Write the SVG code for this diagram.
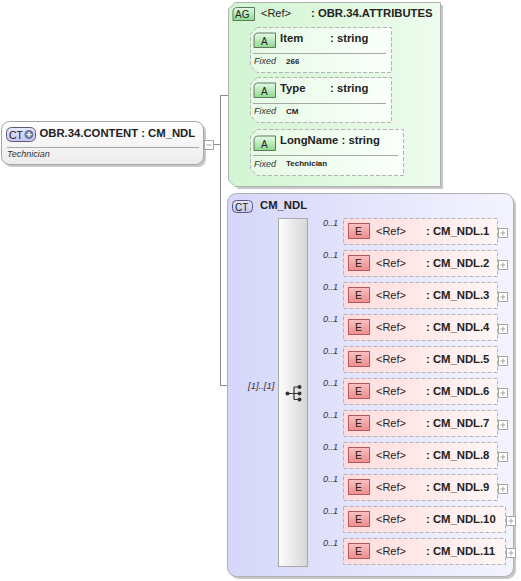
<svg xmlns="http://www.w3.org/2000/svg" width="521" height="581" viewBox="0 0 521 581">
<defs>
<linearGradient id="gNode" x1="0" y1="0" x2="0" y2="1"><stop offset="0" stop-color="#ffffff"/><stop offset="1" stop-color="#ececec"/></linearGradient>
<linearGradient id="gAG" x1="0" y1="0" x2="1" y2="0"><stop offset="0" stop-color="#d2f5d2"/><stop offset="1" stop-color="#eefcee"/></linearGradient>
<linearGradient id="gAttr" x1="0" y1="0" x2="1" y2="0"><stop offset="0" stop-color="#e6fae6"/><stop offset="1" stop-color="#fbfffb"/></linearGradient>
<linearGradient id="gCT" x1="0" y1="0" x2="1" y2="0"><stop offset="0" stop-color="#d6d6fa"/><stop offset="1" stop-color="#f4f4ff"/></linearGradient>
<linearGradient id="gSeq" x1="0" y1="0" x2="1" y2="0"><stop offset="0" stop-color="#fdfdfd"/><stop offset="1" stop-color="#d6d6d6"/></linearGradient>
<linearGradient id="gEl" x1="0" y1="0" x2="1" y2="0"><stop offset="0" stop-color="#ffdcdc"/><stop offset="1" stop-color="#fff6f6"/></linearGradient>
<linearGradient id="gEB" x1="0" y1="0" x2="0" y2="1"><stop offset="0" stop-color="#fbc0c0"/><stop offset="1" stop-color="#ee8e8e"/></linearGradient>
<linearGradient id="gAB" x1="0" y1="0" x2="0" y2="1"><stop offset="0" stop-color="#e6fbe6"/><stop offset="1" stop-color="#8fd88f"/></linearGradient>
<linearGradient id="gCB" x1="0" y1="0" x2="0" y2="1"><stop offset="0" stop-color="#e8e8ff"/><stop offset="1" stop-color="#c4c4f0"/></linearGradient>
</defs>
<style>
.b{font-family:"Liberation Sans",Arial,sans-serif;font-weight:bold;font-size:11.3px;fill:#222}
.r{font-family:"Liberation Sans",Arial,sans-serif;font-size:11px;fill:#222}
.i{font-family:"Liberation Sans",Arial,sans-serif;font-style:italic;font-size:9px;fill:#333}
.v{font-family:"Liberation Sans",Arial,sans-serif;font-weight:bold;font-size:8px;fill:#222}
.ln{fill:none;stroke:#8c8c8c;stroke-width:1}
.dash{stroke:#b4b4b4;stroke-width:1;stroke-dasharray:4,2}
.sh{fill:#c8c8c8}
.pm{fill:#fff;stroke:#a8a8a8;stroke-width:1}
.pml{stroke:#a8a8a8;stroke-width:1}
.eb{fill:url(#gEB);stroke:#b05a5a;stroke-width:1}
.ab{fill:url(#gAB);stroke:#5c7a5c;stroke-width:1}
</style>

<g id="connectors">
<path class="ln" d="M213.5,144.5 H220.5 V95.5 H238.5 M220.5,95.5 V385.5 H228"/>
<path class="ln" d="M238.5,49.5 V152.5 M238.5,49.5 H250 M238.5,99.5 H250 M238.5,152.5 H250"/>
<path class="ln" d="M228,393.5 H278"/>
<path class="ln" d="M307,232.5 H343 M307,264.5 H343 M307,296.5 H343 M307,328.5 H343 M307,360.5 H343 M307,392.5 H343 M307,424.5 H343 M307,456.5 H343 M307,488.5 H343 M307,520.5 H343 M307,552.5 H343"/>
</g>

<g id="OBR.34.CONTENT">
<rect x="4" y="124" width="202" height="43" rx="8" class="sh"/>
<rect x="1.5" y="121.5" width="202" height="43" rx="8" fill="url(#gNode)" stroke="#a4a4a4"/>
<line x1="7" y1="147.5" x2="199" y2="147.5" stroke="#a8a8a8"/>
<rect x="6.5" y="127.5" width="29" height="14" rx="5" fill="url(#gCB)" stroke="#5a5a7a"/>
<text x="9" y="139" class="r" style="font-size:10.5px">CT</text>
<circle cx="29" cy="134.5" r="4.5" fill="#6a7aa0"/>
<path d="M26.5,134.5 H31.5 M29,132 V137" stroke="#fff" stroke-width="1.4"/>
<text x="39.5" y="137" class="b">OBR.34.CONTENT : CM_NDL</text>
<text x="7" y="157" class="i">Technician</text>
<rect x="204.5" y="140.5" width="9" height="9" class="pm"/>
<line x1="206.5" y1="145" x2="211.5" y2="145" class="pml"/>
</g>

<g id="OBR.34.ATTRIBUTES">
<path d="M238,5 H443 V189 H238 L231,182 V12 Z" class="sh"/>
<path d="M235,2.5 H440.5 V186.5 H235 L228.5,180 V9 Z" fill="url(#gAG)" stroke="#b0b0b0"/>
<path d="M233,20.5 V12 Q233,7.5 237.5,7.5 H254.5 V20.5 Z" class="ab" style="fill:url(#gAB)"/>
<text x="235" y="18" class="r" style="font-size:10px">AG</text>
<text x="261" y="17" class="r">&lt;Ref&gt;</text>
<text x="311" y="17" class="b">: OBR.34.ATTRIBUTES</text>
</g>

<g id="Item">
<path d="M257,27.5 H391.5 V72.5 H257 L250.5,66 V34 Z" fill="url(#gAttr)" class="dash"/>
<path d="M254,47.5 V37.5 Q254,33 258.5,33 H275.5 V47.5 Z" class="ab"/>
<text x="261" y="44.5" class="r" style="font-size:10px">A</text>
<text x="280" y="42" class="b">Item</text>
<text x="330" y="42" class="b">: string</text>
<line x1="253" y1="53.5" x2="386" y2="53.5" stroke="#a8a8a8"/>
<text x="254" y="64" class="i">Fixed</text>
<text x="286" y="63.5" class="v">266</text>
</g>

<g id="Type">
<path d="M257,77.5 H391.5 V122.5 H257 L250.5,116 V84 Z" fill="url(#gAttr)" class="dash"/>
<path d="M254,97.5 V87.5 Q254,83 258.5,83 H275.5 V97.5 Z" class="ab"/>
<text x="261" y="94.5" class="r" style="font-size:10px">A</text>
<text x="280" y="92" class="b">Type</text>
<text x="330" y="92" class="b">: string</text>
<line x1="253" y1="103.5" x2="386" y2="103.5" stroke="#a8a8a8"/>
<text x="254" y="114" class="i">Fixed</text>
<text x="286" y="113.5" class="v">CM</text>
</g>

<g id="LongName">
<path d="M257,129.5 H403.5 V175.5 H257 L250.5,169 V136 Z" fill="url(#gAttr)" class="dash"/>
<path d="M254,150.5 V140.5 Q254,136 258.5,136 H275.5 V150.5 Z" class="ab"/>
<text x="261" y="147.5" class="r" style="font-size:10px">A</text>
<text x="280" y="144" class="b">LongName : string</text>
<line x1="253" y1="155.5" x2="398" y2="155.5" stroke="#a8a8a8"/>
<text x="254" y="167" class="i">Fixed</text>
<text x="286" y="166" class="v">Technician</text>
</g>

<g id="CM_NDL">
<rect x="230" y="196" width="286" height="383" rx="9" class="sh"/>
<rect x="227.5" y="193.5" width="286" height="383" rx="9" fill="url(#gCT)" stroke="#b0b0b0"/>
<rect x="232.5" y="200.5" width="20" height="12" rx="4" fill="url(#gCB)" stroke="#5a5a7a"/>
<text x="235" y="210.5" class="r" style="font-size:10px">CT</text>
<text x="260" y="209" class="b">CM_NDL</text>
<text x="248" y="389" class="i" style="font-size:9.5px">[1]..[1]</text>
</g>

<g id="sequence">
<rect x="278.5" y="218.5" width="29" height="348" fill="url(#gSeq)" stroke="#a8a8a8"/>
<path d="M287,393.5 H294 M294,387 V399.5 M294,387 H299 M294,393.5 H299 M294,399.5 H299" stroke="#333" stroke-width="1.2" fill="none"/>
<circle cx="287.5" cy="393.5" r="2" fill="#333"/>
<circle cx="299.5" cy="387" r="2" fill="#333"/>
<circle cx="299.5" cy="393.5" r="2" fill="#333"/>
<circle cx="299.5" cy="399.5" r="2" fill="#333"/>
</g>

<g id="CM_NDL.1"><text x="323" y="226" class="i">0..1</text><rect x="343.5" y="218.5" width="154" height="26" fill="url(#gEl)" class="dash"/><rect x="348.5" y="223.5" width="21" height="15" class="eb"/><text x="355" y="235" class="r" style="font-size:10.5px">E</text><text x="376" y="235" class="r">&lt;Ref&gt;</text><text x="426" y="235" class="b">: CM_NDL.1</text><rect x="498.5" y="228.5" width="9" height="9" class="pm"/><path d="M500.5,233 H505.5 M503,230.5 V235.5" class="pml"/></g>
<g id="CM_NDL.2"><text x="323" y="258" class="i">0..1</text><rect x="343.5" y="250.5" width="154" height="26" fill="url(#gEl)" class="dash"/><rect x="348.5" y="255.5" width="21" height="15" class="eb"/><text x="355" y="267" class="r" style="font-size:10.5px">E</text><text x="376" y="267" class="r">&lt;Ref&gt;</text><text x="426" y="267" class="b">: CM_NDL.2</text><rect x="498.5" y="260.5" width="9" height="9" class="pm"/><path d="M500.5,265 H505.5 M503,262.5 V267.5" class="pml"/></g>
<g id="CM_NDL.3"><text x="323" y="290" class="i">0..1</text><rect x="343.5" y="282.5" width="154" height="26" fill="url(#gEl)" class="dash"/><rect x="348.5" y="287.5" width="21" height="15" class="eb"/><text x="355" y="299" class="r" style="font-size:10.5px">E</text><text x="376" y="299" class="r">&lt;Ref&gt;</text><text x="426" y="299" class="b">: CM_NDL.3</text><rect x="498.5" y="292.5" width="9" height="9" class="pm"/><path d="M500.5,297 H505.5 M503,294.5 V299.5" class="pml"/></g>
<g id="CM_NDL.4"><text x="323" y="322" class="i">0..1</text><rect x="343.5" y="314.5" width="154" height="26" fill="url(#gEl)" class="dash"/><rect x="348.5" y="319.5" width="21" height="15" class="eb"/><text x="355" y="331" class="r" style="font-size:10.5px">E</text><text x="376" y="331" class="r">&lt;Ref&gt;</text><text x="426" y="331" class="b">: CM_NDL.4</text><rect x="498.5" y="324.5" width="9" height="9" class="pm"/><path d="M500.5,329 H505.5 M503,326.5 V331.5" class="pml"/></g>
<g id="CM_NDL.5"><text x="323" y="354" class="i">0..1</text><rect x="343.5" y="346.5" width="154" height="26" fill="url(#gEl)" class="dash"/><rect x="348.5" y="351.5" width="21" height="15" class="eb"/><text x="355" y="363" class="r" style="font-size:10.5px">E</text><text x="376" y="363" class="r">&lt;Ref&gt;</text><text x="426" y="363" class="b">: CM_NDL.5</text><rect x="498.5" y="356.5" width="9" height="9" class="pm"/><path d="M500.5,361 H505.5 M503,358.5 V363.5" class="pml"/></g>
<g id="CM_NDL.6"><text x="323" y="386" class="i">0..1</text><rect x="343.5" y="378.5" width="154" height="26" fill="url(#gEl)" class="dash"/><rect x="348.5" y="383.5" width="21" height="15" class="eb"/><text x="355" y="395" class="r" style="font-size:10.5px">E</text><text x="376" y="395" class="r">&lt;Ref&gt;</text><text x="426" y="395" class="b">: CM_NDL.6</text><rect x="498.5" y="388.5" width="9" height="9" class="pm"/><path d="M500.5,393 H505.5 M503,390.5 V395.5" class="pml"/></g>
<g id="CM_NDL.7"><text x="323" y="418" class="i">0..1</text><rect x="343.5" y="410.5" width="154" height="26" fill="url(#gEl)" class="dash"/><rect x="348.5" y="415.5" width="21" height="15" class="eb"/><text x="355" y="427" class="r" style="font-size:10.5px">E</text><text x="376" y="427" class="r">&lt;Ref&gt;</text><text x="426" y="427" class="b">: CM_NDL.7</text><rect x="498.5" y="420.5" width="9" height="9" class="pm"/><path d="M500.5,425 H505.5 M503,422.5 V427.5" class="pml"/></g>
<g id="CM_NDL.8"><text x="323" y="450" class="i">0..1</text><rect x="343.5" y="442.5" width="154" height="26" fill="url(#gEl)" class="dash"/><rect x="348.5" y="447.5" width="21" height="15" class="eb"/><text x="355" y="459" class="r" style="font-size:10.5px">E</text><text x="376" y="459" class="r">&lt;Ref&gt;</text><text x="426" y="459" class="b">: CM_NDL.8</text><rect x="498.5" y="452.5" width="9" height="9" class="pm"/><path d="M500.5,457 H505.5 M503,454.5 V459.5" class="pml"/></g>
<g id="CM_NDL.9"><text x="323" y="482" class="i">0..1</text><rect x="343.5" y="474.5" width="154" height="26" fill="url(#gEl)" class="dash"/><rect x="348.5" y="479.5" width="21" height="15" class="eb"/><text x="355" y="491" class="r" style="font-size:10.5px">E</text><text x="376" y="491" class="r">&lt;Ref&gt;</text><text x="426" y="491" class="b">: CM_NDL.9</text><rect x="498.5" y="484.5" width="9" height="9" class="pm"/><path d="M500.5,489 H505.5 M503,486.5 V491.5" class="pml"/></g>
<g id="CM_NDL.10"><text x="323" y="514" class="i">0..1</text><rect x="343.5" y="506.5" width="162" height="26" fill="url(#gEl)" class="dash"/><rect x="348.5" y="511.5" width="21" height="15" class="eb"/><text x="355" y="523" class="r" style="font-size:10.5px">E</text><text x="376" y="523" class="r">&lt;Ref&gt;</text><text x="426" y="523" class="b">: CM_NDL.10</text><rect x="506.5" y="516.5" width="9" height="9" class="pm"/><path d="M508.5,521 H513.5 M511,518.5 V523.5" class="pml"/></g>
<g id="CM_NDL.11"><text x="323" y="546" class="i">0..1</text><rect x="343.5" y="538.5" width="162" height="26" fill="url(#gEl)" class="dash"/><rect x="348.5" y="543.5" width="21" height="15" class="eb"/><text x="355" y="555" class="r" style="font-size:10.5px">E</text><text x="376" y="555" class="r">&lt;Ref&gt;</text><text x="426" y="555" class="b">: CM_NDL.11</text><rect x="506.5" y="548.5" width="9" height="9" class="pm"/><path d="M508.5,553 H513.5 M511,550.5 V555.5" class="pml"/></g>
</svg>
